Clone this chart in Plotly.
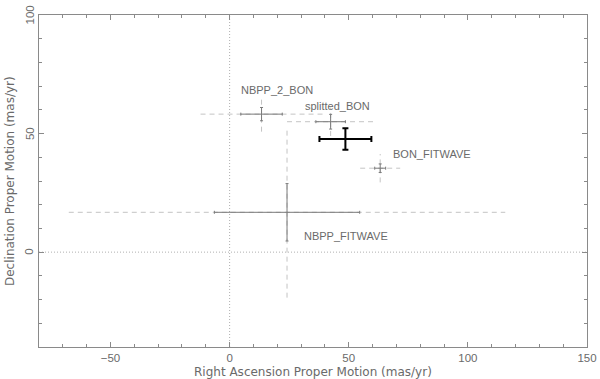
import plotly.graph_objects as go

# ---- data ----
names = ["NBPP_2_BON", "splitted_BON", "BON_FITWAVE", "NBPP_FITWAVE"]
ra = [13.4, 42.4, 63.2, 24.1]
dec = [58.2, 55.0, 35.4, 16.8]
ra_err = [8.7, 6.2, 2.3, 30.5]
dec_err = [2.8, 3.1, 1.8, 12.1]
ra_err_total = [25.6, 18.3, 8.4, 91.6]
dec_err_total = [7.4, 6.0, 6.0, 36.0]
label_x = [4.0, 30.7, 67.9, 30.5]
label_y = [68.3, 61.6, 41.4, 6.6]

mean_ra = [48.6]
mean_dec = [47.7]
mean_ra_err = [10.9]
mean_dec_err = [4.5]

x_range = [-80, 150]
y_range = [-40, 100]
y_ticks = [0, 50, 100]
x_title = "Right Ascension Proper Motion (mas/yr)"
y_title = "Declination Proper Motion (mas/yr)"

SOLID = "#7a7a7a"
DASH = "#c4c4c4"
TEXT = "#6a6a6a"
AXIS = "#8a8a8a"
FONT = "Liberation Sans"
TFONT = "DejaVu Sans"

fig = go.Figure()

# zero lines (dotted)
fig.add_trace(go.Scatter(x=[0, 0], y=y_range, mode="lines",
                         line=dict(color="#b0b0b0", width=1, dash="1px,2px"),
                         hoverinfo="skip", showlegend=False))
fig.add_trace(go.Scatter(x=x_range, y=[0, 0], mode="lines",
                         line=dict(color="#b0b0b0", width=1, dash="1px,2px"),
                         hoverinfo="skip", showlegend=False))

# total (dashed) error crosses
for i in range(len(names)):
    xs = [ra[i] - ra_err_total[i], ra[i] + ra_err_total[i], None, ra[i], ra[i]]
    ys = [dec[i], dec[i], None, dec[i] - dec_err_total[i], dec[i] + dec_err_total[i]]
    fig.add_trace(go.Scatter(x=xs, y=ys, mode="lines",
                             line=dict(color=DASH, width=1, dash="5px,4px"),
                             hoverinfo="skip", showlegend=False))

# statistical (solid) error bars
fig.add_trace(go.Scatter(
    x=ra, y=dec, mode="markers",
    marker=dict(size=1, color="rgba(0,0,0,0)"),
    error_x=dict(type="data", array=ra_err, color=SOLID, thickness=1, width=1.5),
    error_y=dict(type="data", array=dec_err, color=SOLID, thickness=1, width=1.5),
    text=names, showlegend=False))

# mean (thick black)
fig.add_trace(go.Scatter(
    x=mean_ra, y=mean_dec, mode="markers",
    marker=dict(size=1, color="rgba(0,0,0,0)"),
    error_x=dict(type="data", array=mean_ra_err, color="black", thickness=2, width=3),
    error_y=dict(type="data", array=mean_dec_err, color="black", thickness=2, width=3),
    showlegend=False))

for i in range(len(names)):
    fig.add_annotation(x=label_x[i], y=label_y[i], text=names[i], showarrow=False,
                       xanchor="left", yanchor="middle",
                       font=dict(family=FONT, size=11, color=TEXT))

# y tick labels (rotated, centred on ticks)
for v in y_ticks:
    fig.add_annotation(x=0, xref="paper", y=v, yref="y", text=str(v), textangle=-90,
                       showarrow=False, xanchor="center", yanchor="middle", xshift=-9.5,
                       font=dict(family=FONT, size=11.5, color=TEXT))

# axis titles
fig.add_annotation(x=0.5, xref="paper", y=0, yref="paper", yshift=-24.5,
                   text=x_title, showarrow=False, xanchor="center", yanchor="middle",
                   font=dict(family=TFONT, size=12, color=TEXT))
fig.add_annotation(x=0, xref="paper", y=0.5, yref="paper", xshift=-29,
                   text=y_title, textangle=-90, showarrow=False,
                   xanchor="center", yanchor="middle",
                   font=dict(family=TFONT, size=12, color=TEXT))

axis_common = dict(
    showgrid=False, zeroline=False, showline=True, linecolor=AXIS, linewidth=1,
    mirror="ticks", ticks="inside", ticklen=5, tickcolor=AXIS, automargin=False,
    tickfont=dict(family=FONT, size=11.5, color=TEXT),
)
fig.update_xaxes(range=x_range, dtick=50, tick0=0,
                 minor=dict(dtick=10, ticks="inside", ticklen=3, tickcolor=AXIS),
                 **axis_common)
fig.update_yaxes(range=y_range, dtick=50, tick0=0, showticklabels=False,
                 minor=dict(dtick=10, ticks="inside", ticklen=3, tickcolor=AXIS),
                 **axis_common)

fig.update_layout(width=600, height=379, margin=dict(l=39, r=13, t=15, b=32),
                  plot_bgcolor="white", paper_bgcolor="white", showlegend=False)

fig.write_html("out.html", config={"displayModeBar": False},
               post_script="document.body.style.margin='0px';document.body.style.overflow='hidden';")
